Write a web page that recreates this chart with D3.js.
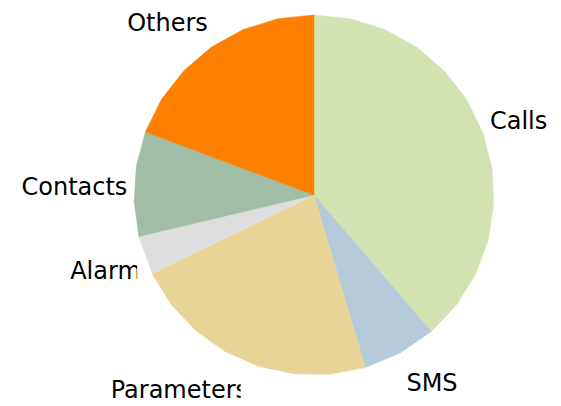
<!DOCTYPE html>
<html>
<head>
<meta charset="utf-8">
<script src="https://cdn.jsdelivr.net/npm/d3@7"></script>
<style>
  body { margin: 0; background: #fff; }
  text { font-family: "DejaVu Sans", sans-serif; font-size: 24px; fill: #000; }
</style>
</head>
<body>
<div id="chart"></div>
<script>
// Our canvas
const width = 561,
  height = 406,
  cx = 314,
  cy = 195,
  radius = 180

// data, clockwise from 12 o'clock
const categories = ['Calls', 'SMS', 'Parameters', 'Alarm', 'Contacts', 'Others']
const shares = [38.7, 6.7, 22.4, 3.5, 9.4, 19.3]
const colors = ['#d2e3b1', '#b5cadb', '#e9d498', '#dedede', '#a0bda6', '#ff7f00']

// label layout tweaks (dx, dy from the mid-angle point, clip width or 0)
const labelDx = [3, 15, -48, -6, -25, -24]
const labelDy = [0, -1, -2, 3, 5, 4]
const labelClip = [0, 0, 130, 67, 0, 0]

const pie = d3.pie().sort(null).value(d => d.value)
const arcs = pie(categories.map((c, i) => ({ name: c, value: shares[i], color: colors[i] })))

// the original draws arcs as coarse polygons
const step = 12 * Math.PI / 180
const radial = d3.lineRadial()
  .angle(d => d[0])
  .radius(d => d[1])
  .curve(d3.curveLinearClosed)

let slicePoints = a => {
  let n = Math.max(1, Math.round((a.endAngle - a.startAngle) / step))
  let pts = [[0, 0]]
  for (let k = 0; k <= n; k++) {
    pts.push([a.startAngle + (a.endAngle - a.startAngle) * k / n, radius])
  }
  return pts
}

let svg = d3.select('#chart')
  .append('svg')
  .attr('width', width)
  .attr('height', height)

let defs = svg.append('defs')

let g = svg.append('g')
  .attr('transform', `translate(${cx},${cy})`)

g.selectAll('path.slice')
  .data(arcs)
  .enter()
  .append('path')
  .attr('class', 'slice')
  .attr('d', d => radial(slicePoints(d)))
  .attr('fill', d => d.data.color)
  .attr('stroke', d => d.data.color)
  .attr('stroke-width', 0.5)

// labels
const labelArc = d3.arc().innerRadius(215).outerRadius(215)

arcs.forEach((d, i) => {
  let c = labelArc.centroid(d)
  let x = c[0] + labelDx[i],
    y = c[1] + labelDy[i]
  let t = g.append('text')
    .attr('x', x)
    .attr('y', y)
    .attr('dy', '0.35em')
    .attr('text-anchor', 'middle')
    .text(d.data.name)
  if (labelClip[i]) {
    let w = t.node().getComputedTextLength()
    let id = 'clip' + i
    defs.append('clipPath')
      .attr('id', id)
      .append('rect')
      .attr('x', cx + x - w / 2)
      .attr('y', cy + y - 20)
      .attr('width', labelClip[i])
      .attr('height', 40)
    // clip rect is in svg coords, so move text into root
    t.remove()
    svg.append('text')
      .attr('x', cx + x)
      .attr('y', cy + y)
      .attr('dy', '0.35em')
      .attr('text-anchor', 'middle')
      .attr('clip-path', `url(#${id})`)
      .text(d.data.name)
  }
})
</script>
</body>
</html>
